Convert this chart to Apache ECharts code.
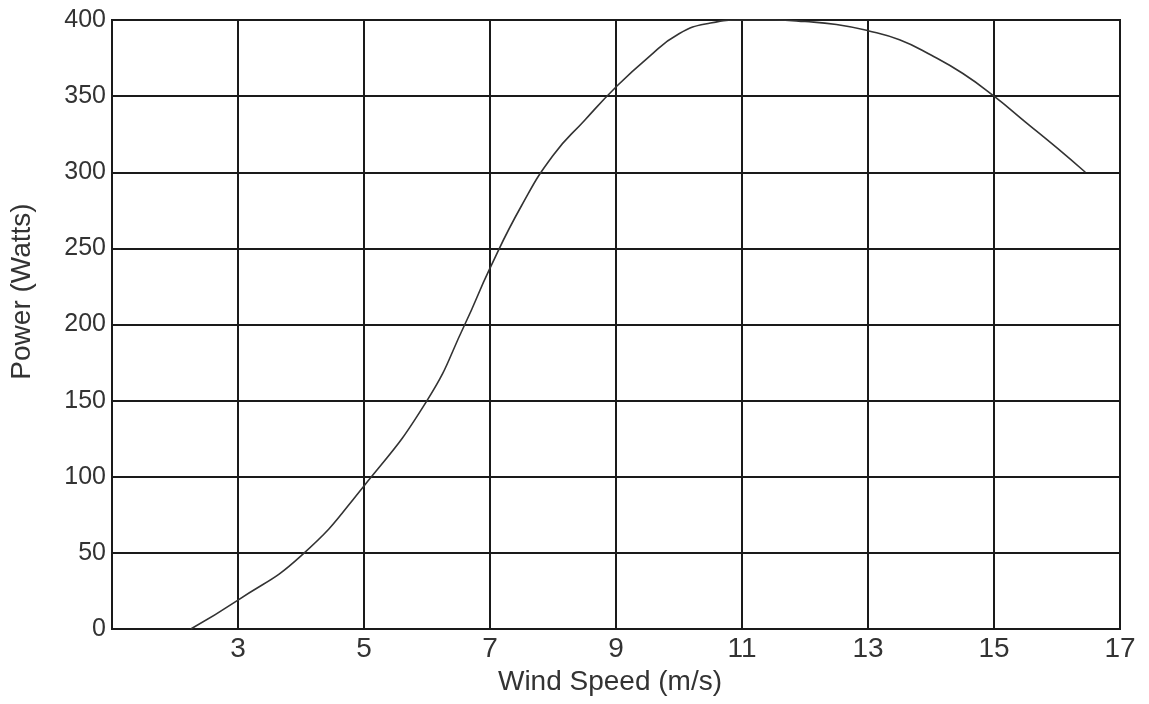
<!DOCTYPE html>
<html>
<head>
<meta charset="utf-8">
<script src="https://cdn.jsdelivr.net/npm/echarts@6/dist/echarts.min.js"></script>
<style>html,body{margin:0;padding:0;background:#fff;}#c{width:1149px;height:704px;}</style>
</head>
<body>
<div id="c"></div>
<script>
var windSpeed = [2.25, 3, 4, 5, 6, 6.6, 7, 7.5, 8, 8.5, 9, 9.5, 10, 10.5, 11, 11.5, 12, 12.5, 13, 13.5, 14, 14.5, 15, 15.5, 16, 16.45];
var powerWatts = [0, 19, 48, 94, 150, 200, 237, 278, 311, 334, 356, 375, 391, 398, 400, 400, 399, 397, 393, 387, 377, 365, 350, 333, 316, 300];
var xTicks = [1, 3, 5, 7, 9, 11, 13, 15, 17];
var yTicks = [0, 50, 100, 150, 200, 250, 300, 350, 400];
var xTitle = 'Wind Speed (m/s)';
var yTitle = 'Power (Watts)';

var seriesData = windSpeed.map(function (x, i) { return [x, powerWatts[i]]; });
var chart = echarts.init(document.getElementById('c'), null, { renderer: 'canvas' });
var font = 'Liberation Sans, Arial, sans-serif';
chart.setOption({
  animation: false,
  backgroundColor: '#ffffff',
  grid: { left: 112, right: 29, top: 20, bottom: 75, show: true, borderColor: '#1a1a1a', borderWidth: 2 },
  xAxis: {
    type: 'value', min: xTicks[0], max: xTicks[xTicks.length - 1], interval: 2,
    name: xTitle, nameLocation: 'middle', nameGap: 38,
    nameTextStyle: { fontFamily: font, fontSize: 28, color: '#333333', padding: [0, 12, 0, 0] },
    axisLine: { show: true, lineStyle: { color: '#1a1a1a', width: 2 } },
    axisTick: { show: false },
    axisLabel: { showMinLabel: false, fontFamily: font, fontSize: 28, color: '#333333', margin: 6 },
    splitLine: { show: true, lineStyle: { color: '#1a1a1a', width: 2 } }
  },
  yAxis: {
    type: 'value', min: yTicks[0], max: yTicks[yTicks.length - 1], interval: 50,
    name: yTitle, nameLocation: 'middle', nameGap: 76, nameRotate: 90,
    nameTextStyle: { fontFamily: font, fontSize: 28, color: '#333333', padding: [0, 0, 0, 66] },
    axisLine: { show: true, lineStyle: { color: '#1a1a1a', width: 2 } },
    axisTick: { show: false },
    axisLabel: { fontFamily: font, fontSize: 25, color: '#333333', margin: 6 },
    splitLine: { show: true, lineStyle: { color: '#1a1a1a', width: 2 } }
  },
  series: [{
    type: 'line', data: seriesData, smooth: 0.5, showSymbol: false,
    lineStyle: { color: '#333333', width: 1.6 }
  }]
});
</script>
</body>
</html>
